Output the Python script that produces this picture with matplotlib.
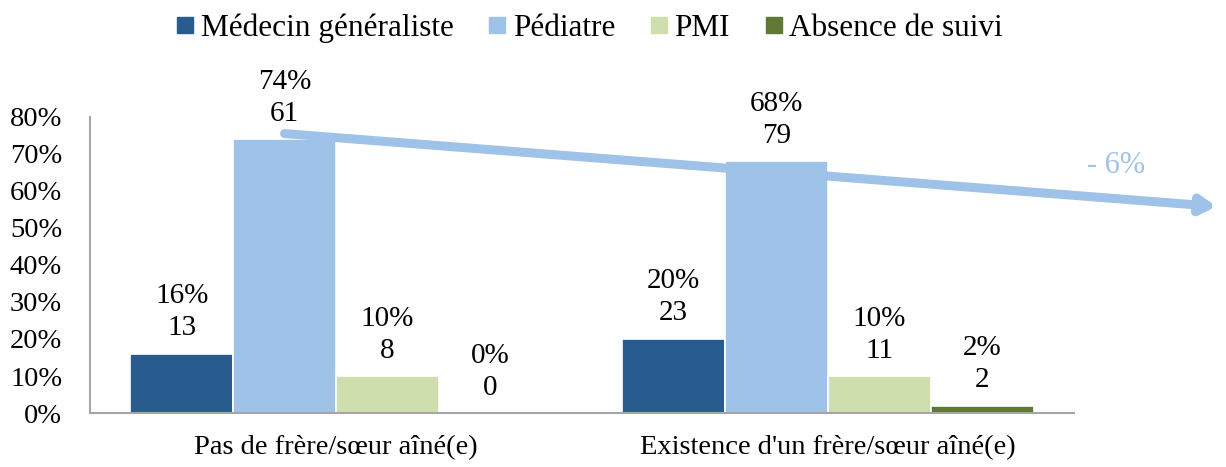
import numpy as np
import matplotlib.pyplot as plt
from matplotlib.lines import Line2D

plt.rcParams['font.family'] = ['Liberation Serif', 'DejaVu Serif']

# data
categories = ["Pas de frère/sœur aîné(e)", "Existence d'un frère/sœur aîné(e)"]
series = ["Médecin généraliste", "Pédiatre", "PMI", "Absence de suivi"]
pct_medecin = [16, 20]
pct_pediatre = [74, 68]
pct_pmi = [10, 10]
pct_absence = [0, 2]
n_medecin = [13, 23]
n_pediatre = [61, 79]
n_pmi = [8, 11]
n_absence = [0, 2]
yticks = [0, 10, 20, 30, 40, 50, 60, 70, 80]
trend_label = "- 6%"

colors = ['#285B8E', '#9FC2E8', '#CFDEAD', '#5F7935']
pcts = [pct_medecin, pct_pediatre, pct_pmi, pct_absence]
counts = [n_medecin, n_pediatre, n_pmi, n_absence]

fig = plt.figure(figsize=(12.26, 4.67), dpi=100)
ax = fig.add_axes([0.0734, 0.1156, 0.8026, 0.634])

x = np.arange(len(categories))
w = 0.209
for i in range(len(series)):
    xs = x + (i - 1.5) * w
    ax.bar(xs, pcts[i], width=w, color=colors[i], edgecolor='white',
           linewidth=1.2, zorder=2)
    for xi, p, n in zip(xs, pcts[i], counts[i]):
        ax.annotate(f"{p}%\n{n}", (xi, p), xytext=(0, 9),
                    textcoords='offset points', ha='center', va='bottom',
                    fontsize=21, linespacing=1.3)

ax.set_xlim(-0.5, 1.5)
ax.set_ylim(0, 80)
ax.set_yticks(yticks)
ax.set_yticklabels([f"{t}%" for t in yticks])
ax.set_xticks(x)
ax.set_xticklabels(categories, fontsize=21)
ax.tick_params(axis='both', length=0, labelsize=20.5)
ax.tick_params(axis='y', pad=20)
ax.tick_params(axis='x', pad=16)
for s in ['top', 'right']:
    ax.spines[s].set_visible(False)
for s in ['left', 'bottom']:
    ax.spines[s].set_color('#A6A6A6')
    ax.spines[s].set_linewidth(1.5)

# trend arrow across the Pédiatre bars
x_start = x[0] - 0.5 * w
y_start = pct_pediatre[0] + 1.5
slope = (pct_pediatre[1] - pct_pediatre[0] - 4.4) / (x[1] - x[0])
x_end = 1.79
y_end = y_start + slope * (x_end - x_start)
ax.annotate("", xy=(x_end, y_end), xytext=(x_start, y_start),
            arrowprops=dict(arrowstyle='-|>,head_length=0.85,head_width=0.5',
                            color='#9FC2E8', lw=6.5, shrinkA=0, shrinkB=0),
            annotation_clip=False, zorder=3)
ax.text(1.585, 67, trend_label, color='#9FC2E8', fontsize=22,
        ha='center', va='center', clip_on=False)

handles = [Line2D([0], [0], marker='s', linestyle='none', markersize=12,
                  markerfacecolor=c, markeredgecolor=c) for c in colors]
fig.legend(handles, series, loc='center', bbox_to_anchor=(0.48, 0.94),
           ncol=4, frameon=False, fontsize=22.5, handletextpad=0.15,
           columnspacing=1.05, handlelength=0.7)

fig.savefig('out.png', dpi=100)
